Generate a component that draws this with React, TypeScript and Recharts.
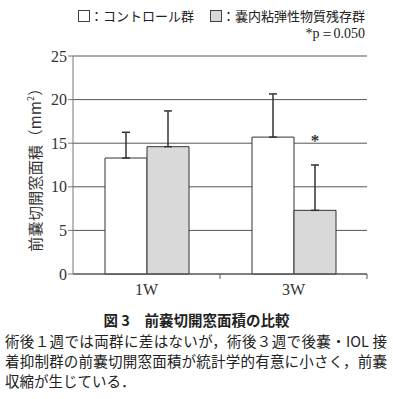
import React from 'react';
import { BarChart, Bar, XAxis, YAxis, CartesianGrid, ErrorBar, LabelList } from 'recharts';

const categories = ['1W', '3W'];
const controlMean = [13.3, 15.7];
const controlSD = [2.95, 4.95];
const residualMean = [14.6, 7.3];
const residualSD = [4.1, 5.2];
const significance = ['', '*'];
const yTicks = [0, 5, 10, 15, 20, 25];

const W = 393;
const H = 300;
const MARGIN = { top: 56, right: 26, left: 0, bottom: 0 };
const Y_AXIS_W = 73;
const SERIF = '"Liberation Serif", "DejaVu Serif", serif';
const CJK = '"Noto Sans CJK JP", sans-serif';

const data = categories.map((c, i) => ({
  name: c,
  control: controlMean[i],
  controlErr: [0, controlSD[i]],
  residual: residualMean[i],
  residualErr: [0, residualSD[i]],
  sig: significance[i],
}));

// half of one category band, used to put the x ticks on the category borders
const halfBand = (W - Y_AXIS_W - MARGIN.right) / categories.length / 2;

function XTick(props: any) {
  const { x, y, payload } = props;
  return (
    <g>
      <text x={x} y={y + 21} textAnchor="middle" fontFamily={SERIF} fontSize={16} fill="#333">
        {payload.value}
      </text>
      <line x1={x + halfBand} y1={y} x2={x + halfBand} y2={y + 5} stroke="#555" />
    </g>
  );
}

function SigLabel(props: any) {
  const { x, y, width, height, value, index } = props;
  if (!value) return null;
  const perUnit = height / residualMean[index];
  const top = y - residualSD[index] * perUnit;
  return (
    <text x={x + width / 2} y={top - 19} textAnchor="middle" fontFamily={SERIF} fontWeight="bold" fontSize={17} fill="#333">
      {value}
    </text>
  );
}

const lineStyle: React.CSSProperties = { textAlign: 'justify', textAlignLast: 'justify', height: 20, overflow: 'hidden' };

export default function App() {
  return (
    <div style={{ position: 'absolute', left: 0, top: 0, width: W, height: 399, background: '#fff', fontFamily: CJK, color: '#222' }}>
      <div style={{ position: 'absolute', right: 28, top: 6, fontSize: 13, display: 'flex', alignItems: 'center', whiteSpace: 'nowrap' }}>
        <span style={{ display: 'inline-block', width: 10, height: 10, border: '1px solid #444', background: '#fff' }} />
        <span>：コントロール群</span>
        <span style={{ display: 'inline-block', width: 10, height: 10, border: '1px solid #444', background: '#d9d9d9', marginLeft: 16 }} />
        <span>：嚢内粘弾性物質残存群</span>
      </div>
      <div style={{ position: 'absolute', right: 28, top: 25, fontSize: 14, fontFamily: SERIF, whiteSpace: 'nowrap' }}>
        *p＝0.050
      </div>

      <div style={{ position: 'absolute', left: 0, top: 0 }}>
        <BarChart width={W} height={H} data={data} margin={MARGIN} barGap={0} barCategoryGap="22%">
          <CartesianGrid vertical={false} stroke="#555" />
          <XAxis
            dataKey="name"
            height={26}
            tickSize={0}
            tickMargin={0}
            tick={<XTick />}
            axisLine={{ stroke: '#555' }}
            tickLine={false}
          />
          <YAxis
            width={Y_AXIS_W}
            domain={[0, 25]}
            ticks={yTicks}
            tickSize={5}
            tickMargin={1}
            axisLine={{ stroke: '#777' }}
            tickLine={{ stroke: '#777' }}
            tick={{ fontFamily: SERIF, fontSize: 16, fill: '#333' }}
            label={{
              content: () => (
                <text
                  x={41}
                  y={166}
                  transform="rotate(-90 41 166)"
                  textAnchor="middle"
                  fontFamily={CJK}
                  fontSize={15}
                  letterSpacing={0.3}
                  fill="#333"
                >
                  前嚢切開窓面積（mm
                  <tspan fontSize={9} dy={-7}>2</tspan>
                  <tspan dy={7}>）</tspan>
                </text>
              ),
            }}
          />
          <Bar dataKey="control" barSize={42} fill="#ffffff" stroke="#333" isAnimationActive={false}>
            <ErrorBar dataKey="controlErr" width={4} stroke="#333" direction="y" />
          </Bar>
          <Bar dataKey="residual" barSize={42} fill="#d9d9d9" stroke="#333" isAnimationActive={false}>
            <ErrorBar dataKey="residualErr" width={4} stroke="#333" direction="y" />
            <LabelList dataKey="sig" content={<SigLabel />} />
          </Bar>
        </BarChart>
      </div>

      <div style={{ position: 'absolute', left: 0, width: W, top: 310, lineHeight: '20px', textAlign: 'center', fontWeight: 'bold', fontSize: 14.5 }}>
        図 3　前嚢切開窓面積の比較
      </div>
      <div style={{ position: 'absolute', left: 5, width: 382, top: 331, fontSize: 14.5, lineHeight: '20px' }}>
        <div style={lineStyle}>術後１週では両群に差はないが，術後３週で後嚢・IOL 接</div>
        <div style={lineStyle}>着抑制群の前嚢切開窓面積が統計学的有意に小さく，前嚢</div>
        <div style={{ height: 20 }}>収縮が生じている．</div>
      </div>
    </div>
  );
}
